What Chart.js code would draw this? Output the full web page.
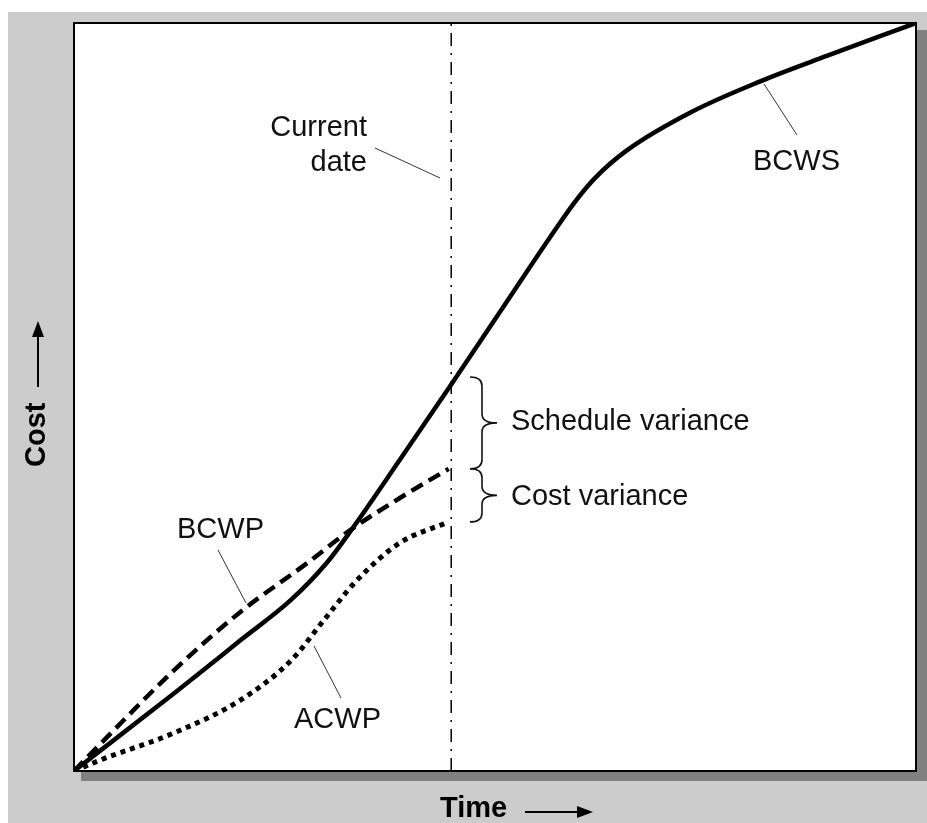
<!DOCTYPE html>
<html>
<head>
<meta charset="utf-8">
<script src="https://cdn.jsdelivr.net/npm/chart.js@4"></script>
<style>
  html, body { margin: 0; padding: 0; background: #ffffff; }
  canvas { display: block; }
</style>
</head>
<body>
<canvas id="c" width="927" height="823"></canvas>
<script>
// ---- Data (time and cost on a 0..100 relative scale) ----
const bcwsTime = [0, 11.9, 19.8, 25.8, 30.0, 32.8, 38.7, 44.7, 50.6, 56.5, 59.5, 61.9, 65.7, 73.5, 81.5, 89.4, 100];
const bcwsCost = [0, 10.4, 17.5, 22.9, 27.8, 32.0, 41.6, 51.5, 61.4, 71.3, 76.1, 79.3, 83.0, 88.2, 92.2, 95.6, 100];

const bcwpTime = [0, 3.9, 11.9, 19.8, 27.7, 32.8, 38.7, 44.5];
const bcwpCost = [0, 4.5, 13.5, 21.3, 27.8, 32.2, 36.5, 40.4];

const acwpTime = [0, 3.2, 11.9, 19.8, 25.8, 29.7, 33.6, 38.7, 44.5];
const acwpCost = [0, 1.5, 5.1, 9.5, 14.8, 20.2, 25.5, 30.5, 33.3];

const currentDate = 44.8;
const costRange = [0, 100];

const seriesLabels = ['BCWS', 'BCWP', 'ACWP', 'Current date'];

function pts(xs, ys) { return xs.map((x, i) => ({ x: x, y: ys[i] })); }

const FONT = '"Liberation Sans", Arial, Helvetica, sans-serif';

const decor = {
  id: 'decor',
  beforeDraw(chart) {
    const ctx = chart.ctx;
    const a = chart.chartArea;
    ctx.save();
    ctx.fillStyle = '#ffffff';
    ctx.fillRect(0, 0, chart.width, chart.height);
    ctx.fillStyle = '#cccccc';
    ctx.fillRect(8, 12, chart.width - 8, chart.height - 12);
    // drop shadow
    ctx.fillStyle = '#808080';
    ctx.fillRect(a.left + 7, a.top + 7, a.right - a.left + 4, a.bottom - a.top + 3);
    ctx.fillStyle = '#ffffff';
    ctx.fillRect(a.left, a.top, a.right - a.left, a.bottom - a.top);
    ctx.restore();
  },
  afterDatasetsDraw(chart) {
    const ctx = chart.ctx;
    const a = chart.chartArea;
    ctx.save();
    // frame
    ctx.strokeStyle = '#000';
    ctx.lineWidth = 2;
    ctx.strokeRect(a.left, a.top, a.right - a.left, a.bottom - a.top);

    // labels
    ctx.fillStyle = '#111';
    ctx.font = '29px ' + FONT;
    ctx.textBaseline = 'alphabetic';
    ctx.textAlign = 'right';
    ctx.fillText('Current', 367, 136);
    ctx.fillText('date', 367, 171);
    ctx.textAlign = 'left';
    ctx.fillText('BCWS', 753, 170);
    ctx.fillText('BCWP', 177, 538);
    ctx.fillText('ACWP', 294, 728);
    ctx.fillText('Schedule variance', 511, 430);
    ctx.fillText('Cost variance', 511, 505);

    // leader lines
    ctx.strokeStyle = '#333';
    ctx.lineWidth = 1;
    const leaders = [[375,148,440,178],[764,84,797,135],[218,550,246,603],[314,646,341,698]];
    leaders.forEach(l => { ctx.beginPath(); ctx.moveTo(l[0], l[1]); ctx.lineTo(l[2], l[3]); ctx.stroke(); });

    // braces anchored at the current date values
    const ys = chart.scales.y;
    const yS = 377;
    const yP = ys.getPixelForValue(bcwpCost[bcwpCost.length - 1]);
    const yA = ys.getPixelForValue(acwpCost[acwpCost.length - 1]);
    function brace(y0, y1) {
      const x0 = 470, xs2 = 482, xt = 497, r = 9;
      const ym = (y0 + y1) / 2;
      ctx.beginPath();
      ctx.moveTo(x0, y0);
      ctx.quadraticCurveTo(xs2, y0, xs2, y0 + r);
      ctx.lineTo(xs2, ym - r);
      ctx.quadraticCurveTo(xs2, ym, xt, ym);
      ctx.quadraticCurveTo(xs2, ym, xs2, ym + r);
      ctx.lineTo(xs2, y1 - r);
      ctx.quadraticCurveTo(xs2, y1, x0, y1);
      ctx.stroke();
    }
    ctx.strokeStyle = '#111';
    ctx.lineWidth = 1.6;
    brace(yS, yP);
    brace(yP, yA);

    // axis titles
    ctx.fillStyle = '#000';
    ctx.strokeStyle = '#000';
    ctx.font = 'bold 29px ' + FONT;
    ctx.textAlign = 'left';
    ctx.fillText('Time', 440, 817);
    ctx.lineWidth = 2;
    ctx.beginPath(); ctx.moveTo(525, 812); ctx.lineTo(580, 812); ctx.stroke();
    ctx.beginPath(); ctx.moveTo(593, 812); ctx.lineTo(577, 806); ctx.lineTo(577, 818); ctx.closePath(); ctx.fill();

    ctx.save();
    ctx.translate(45, 467);
    ctx.rotate(-Math.PI / 2);
    ctx.fillText('Cost', 0, 0);
    ctx.restore();
    ctx.beginPath(); ctx.moveTo(38, 387); ctx.lineTo(38, 334); ctx.stroke();
    ctx.beginPath(); ctx.moveTo(38, 321); ctx.lineTo(32, 337); ctx.lineTo(44, 337); ctx.closePath(); ctx.fill();
    ctx.restore();
  }
};

new Chart(document.getElementById('c'), {
  type: 'scatter',
  data: {
    datasets: [
      { label: seriesLabels[0], data: pts(bcwsTime, bcwsCost), showLine: true, borderColor: '#000', borderWidth: 4.5, pointRadius: 0, cubicInterpolationMode: 'monotone' },
      { label: seriesLabels[1], data: pts(bcwpTime, bcwpCost), showLine: true, borderColor: '#000', borderWidth: 4.5, borderDash: [13, 7], pointRadius: 0, cubicInterpolationMode: 'monotone' },
      { label: seriesLabels[2], data: pts(acwpTime, acwpCost), showLine: true, borderColor: '#000', borderWidth: 5, borderDash: [5, 5], pointRadius: 0, cubicInterpolationMode: 'monotone' },
      { label: seriesLabels[3], data: [{ x: currentDate, y: costRange[0] }, { x: currentDate, y: costRange[1] }], showLine: true, borderColor: '#000', borderWidth: 1.5, borderDash: [13, 7, 2, 7], pointRadius: 0 }
    ]
  },
  options: {
    responsive: false,
    animation: false,
    layout: { padding: { left: 74, top: 23, right: 11, bottom: 52 } },
    plugins: { legend: { display: false }, tooltip: { enabled: false } },
    scales: {
      x: { type: 'linear', min: 0, max: 100, display: false },
      y: { type: 'linear', min: costRange[0], max: costRange[1], display: false }
    }
  },
  plugins: [decor]
});
</script>
</body>
</html>
